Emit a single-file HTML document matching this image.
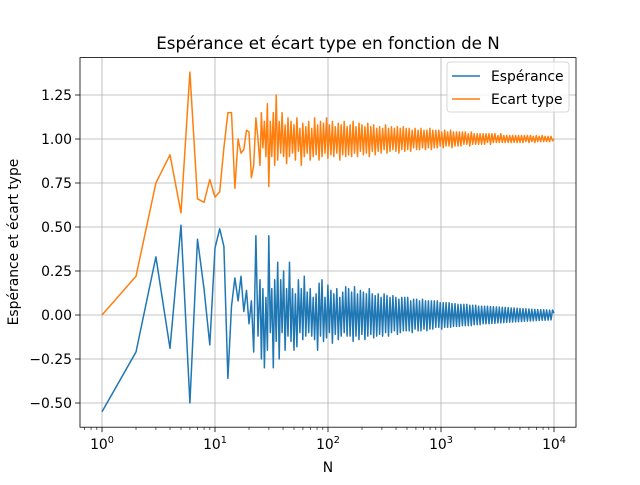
<!DOCTYPE html>
<html><head><meta charset="utf-8"><style>
body{margin:0;background:#fff;font-family:"Liberation Sans","DejaVu Sans",sans-serif}
svg text{font-family:"DejaVu Sans","Liberation Sans",sans-serif}
</style></head><body>
<svg id="c" width="640" height="480" xmlns="http://www.w3.org/2000/svg"></svg>
<script>
const headN=[1,2,3,4,5,6,7,8,9,10,11,12,13,14,15,16,17,18,19,20,21,22,23,24];
const headE=[-0.55,-0.21,0.33,-0.19,0.51,-0.50,0.43,0.15,-0.17,0.38,0.49,0.39,-0.36,0.05,0.21,0.08,0.22,0.02,0.14,-0.05,0.08,-0.21,0.45,-0.12];
const headS=[0,0.22,0.75,0.91,0.58,1.38,0.66,0.64,0.77,0.67,0.70,0.95,1.15,1.15,0.72,1.0,0.92,0.94,1.05,1.04,0.78,0.85,1.12,1.0];
const tailE=[0.2,-0.25,0.15,-0.3,0.1,-0.2,0.45,-0.1,0.15,-0.3,0.2,-0.15,0.3,-0.25,0.2,-0.1,0.25,-0.2,0.15,-0.12,
0.3,-0.15,0.15,-0.2,0.12,-0.18,0.2,-0.1,0.15,-0.14,0.22,-0.12,0.13,-0.1,0.15,-0.12,0.1,-0.14,0.12,-0.2,
0.18,-0.12,0.2,-0.15,0.1,-0.13,0.17,-0.1,0.14,-0.16,0.12,-0.11,0.15,-0.14,0.1,-0.12,0.13,-0.1,0.16,-0.12,
0.15,-0.12,0.13,-0.15,0.16,-0.12,0.12,-0.14,0.14,-0.11,0.13,-0.14,0.12,-0.12,0.15,-0.11,0.12,-0.13,0.11,-0.12,
0.12,-0.11,0.1,-0.12,0.12,-0.1,0.11,-0.12,0.1,-0.1,0.11,-0.09,0.1,-0.11,0.09,-0.1,0.1,-0.09,0.1,-0.09,
0.1,-0.09,0.08,-0.1,0.09,-0.08,0.09,-0.09,0.08,-0.09,0.09,-0.08,0.08,-0.09,0.08,-0.08,0.08,-0.08,0.08,-0.07,
0.08,-0.07,0.07,-0.08,0.07,-0.07,0.07,-0.07,0.07,-0.07,0.065,-0.065,0.065,-0.065,0.06,-0.065,0.06,-0.06,0.06,-0.06,
0.06,-0.06,0.055,-0.06,0.055,-0.055,0.055,-0.055,0.05,-0.055,0.05,-0.05,0.05,-0.05,0.05,-0.05,0.048,-0.048,0.047,-0.047,
0.046,-0.045,0.045,-0.045,0.044,-0.043,0.043,-0.042,0.042,-0.041,0.04,-0.04,0.04,-0.039,0.038,-0.038,0.037,-0.037,0.036,-0.036,
0.035,-0.035,0.034,-0.034,0.033,-0.033,0.032,-0.032,0.031,-0.031,0.03,-0.03,0.03,-0.03,0.029,-0.029,0.028,-0.028,0.028,0.01];
const tailS=[0.85,1.15,0.95,1.1,0.9,1.2,0.73,1.1,0.9,1.15,0.85,1.25,0.88,1.1,0.92,1.15,0.9,1.08,0.86,1.12,
0.9,1.1,0.92,1.08,0.88,1.12,0.93,1.06,0.85,1.09,0.9,1.07,0.92,1.1,0.88,1.06,0.9,1.12,0.91,1.08,
0.88,1.1,0.9,1.09,0.92,1.12,0.89,1.08,0.91,1.1,0.9,1.07,0.92,1.09,0.88,1.08,0.91,1.1,0.9,1.07,
0.91,1.08,0.9,1.1,0.92,1.07,0.9,1.09,0.93,1.08,0.91,1.07,0.92,1.09,0.9,1.07,0.93,1.08,0.91,1.06,
0.93,1.07,0.92,1.06,0.94,1.08,0.92,1.06,0.93,1.07,0.94,1.06,0.93,1.07,0.92,1.06,0.94,1.07,0.93,1.06,
0.94,1.06,0.93,1.05,0.95,1.06,0.94,1.05,0.94,1.06,0.95,1.05,0.94,1.05,0.95,1.06,0.94,1.05,0.95,1.05,
0.95,1.05,0.96,1.04,0.95,1.05,0.96,1.04,0.96,1.05,0.95,1.04,0.96,1.04,0.96,1.04,0.96,1.04,0.97,1.04,
0.97,1.03,0.96,1.04,0.97,1.03,0.97,1.03,0.97,1.03,0.97,1.03,0.97,1.03,0.98,1.03,0.97,1.03,0.98,1.03,
0.98,1.02,0.98,1.03,0.98,1.02,0.98,1.02,0.98,1.02,0.98,1.02,0.98,1.02,0.98,1.02,0.98,1.02,0.98,1.02,
0.985,1.02,0.98,1.02,0.985,1.015,0.98,1.02,0.985,1.015,0.985,1.02,0.985,1.015,0.985,1.015,0.985,1.015,0.99,1.0];
const yTicks=[-0.5,-0.25,0,0.25,0.5,0.75,1.0,1.25];
const yLabels=["−0.50","−0.25","0.00","0.25","0.50","0.75","1.00","1.25"];
const xExp=[0,1,2,3,4];

const NS="http://www.w3.org/2000/svg",svg=document.getElementById('c');
const L=80,R=576,T=57.6,B=427.2;
const xs=n=>102+113*Math.log10(n);
const ys=v=>315-176*v;
function mk(t,a,p){const e=document.createElementNS(NS,t);for(const k in a)e.setAttribute(k,a[k]);(p||svg).appendChild(e);return e;}
const tlen=Math.min(tailE.length,tailS.length);
const tailN=[];for(let i=0;i<tlen;i++)tailN.push(25*Math.pow(400,i/(tlen-1)));
xExp.forEach(k=>{const g=mk('line',{x1:xs(10**k),x2:xs(10**k),y1:T,y2:B,stroke:'#b0b0b0','stroke-width':0.8});
});
yTicks.forEach(v=>{const g=mk('line',{x1:L,x2:R,y1:ys(v),y2:ys(v),stroke:'#b0b0b0','stroke-width':0.8});
});
function series(N,V,col,name){const pts=N.map((n,i)=>xs(n).toFixed(1)+','+ys(V[i]).toFixed(1)).join(' ');
const p=mk('polyline',{points:pts,fill:'none',stroke:col,'stroke-width':1.5,'stroke-linejoin':'round'});
}
const nAll=headN.concat(tailN);
series(nAll,headE.concat(tailE.slice(0,tlen)),'#1f77b4','esperance-line');
series(nAll,headS.concat(tailS.slice(0,tlen)),'#ff7f0e','ecart-type-line');
const fr=mk('rect',{x:L,y:T,width:R-L,height:B-T,fill:'none',stroke:'#000','stroke-width':0.8});

xExp.forEach(k=>{mk('line',{x1:xs(10**k),x2:xs(10**k),y1:B,y2:B+4.9,stroke:'#000','stroke-width':0.8});
const t=mk('text',{x:xs(10**k),y:B+22,'font-size':13.9,'text-anchor':'middle'});

t.innerHTML='10<tspan dy="-6" font-size="9.7">'+k+'</tspan>';
if(k<4)for(let m=2;m<10;m++)mk('line',{x1:xs(m*10**k),x2:xs(m*10**k),y1:B,y2:B+2.8,stroke:'#000','stroke-width':0.6});});
[0.7,0.8,0.9].forEach(m=>mk('line',{x1:xs(m),x2:xs(m),y1:B,y2:B+2.8,stroke:'#000','stroke-width':0.6}));
yTicks.forEach((v,i)=>{mk('line',{x1:L-4.9,x2:L,y1:ys(v),y2:ys(v),stroke:'#000','stroke-width':0.8});
const t=mk('text',{x:L-8,y:ys(v)+5,'font-size':13.9,'text-anchor':'end'});t.textContent=yLabels[i];
});
let t=mk('text',{x:328,y:49,'font-size':16.7,'text-anchor':'middle'});t.textContent='Espérance et écart type en fonction de N';

t=mk('text',{x:328,y:472,'font-size':13.9,'text-anchor':'middle'});t.textContent='N';

t=mk('text',{x:0,y:0,'font-size':13.9,'text-anchor':'middle',transform:'translate(18,242) rotate(-90)'});t.textContent='Espérance et écart type';

const lg=mk('g',{});
mk('rect',{x:447,y:62,width:122,height:50,rx:3,fill:'#fff','fill-opacity':0.8,stroke:'#ccc','stroke-width':0.8},lg);
[['Espérance','#1f77b4',76],['Ecart type','#ff7f0e',99]].forEach(([n,c,y])=>{
const e=mk('g',{},lg);
mk('line',{x1:452,x2:480,y1:y,y2:y,stroke:c,'stroke-width':1.5},e);
const tt=mk('text',{x:491,y:y+5,'font-size':13.9},e);tt.textContent=n;});
</script>
</body></html>
